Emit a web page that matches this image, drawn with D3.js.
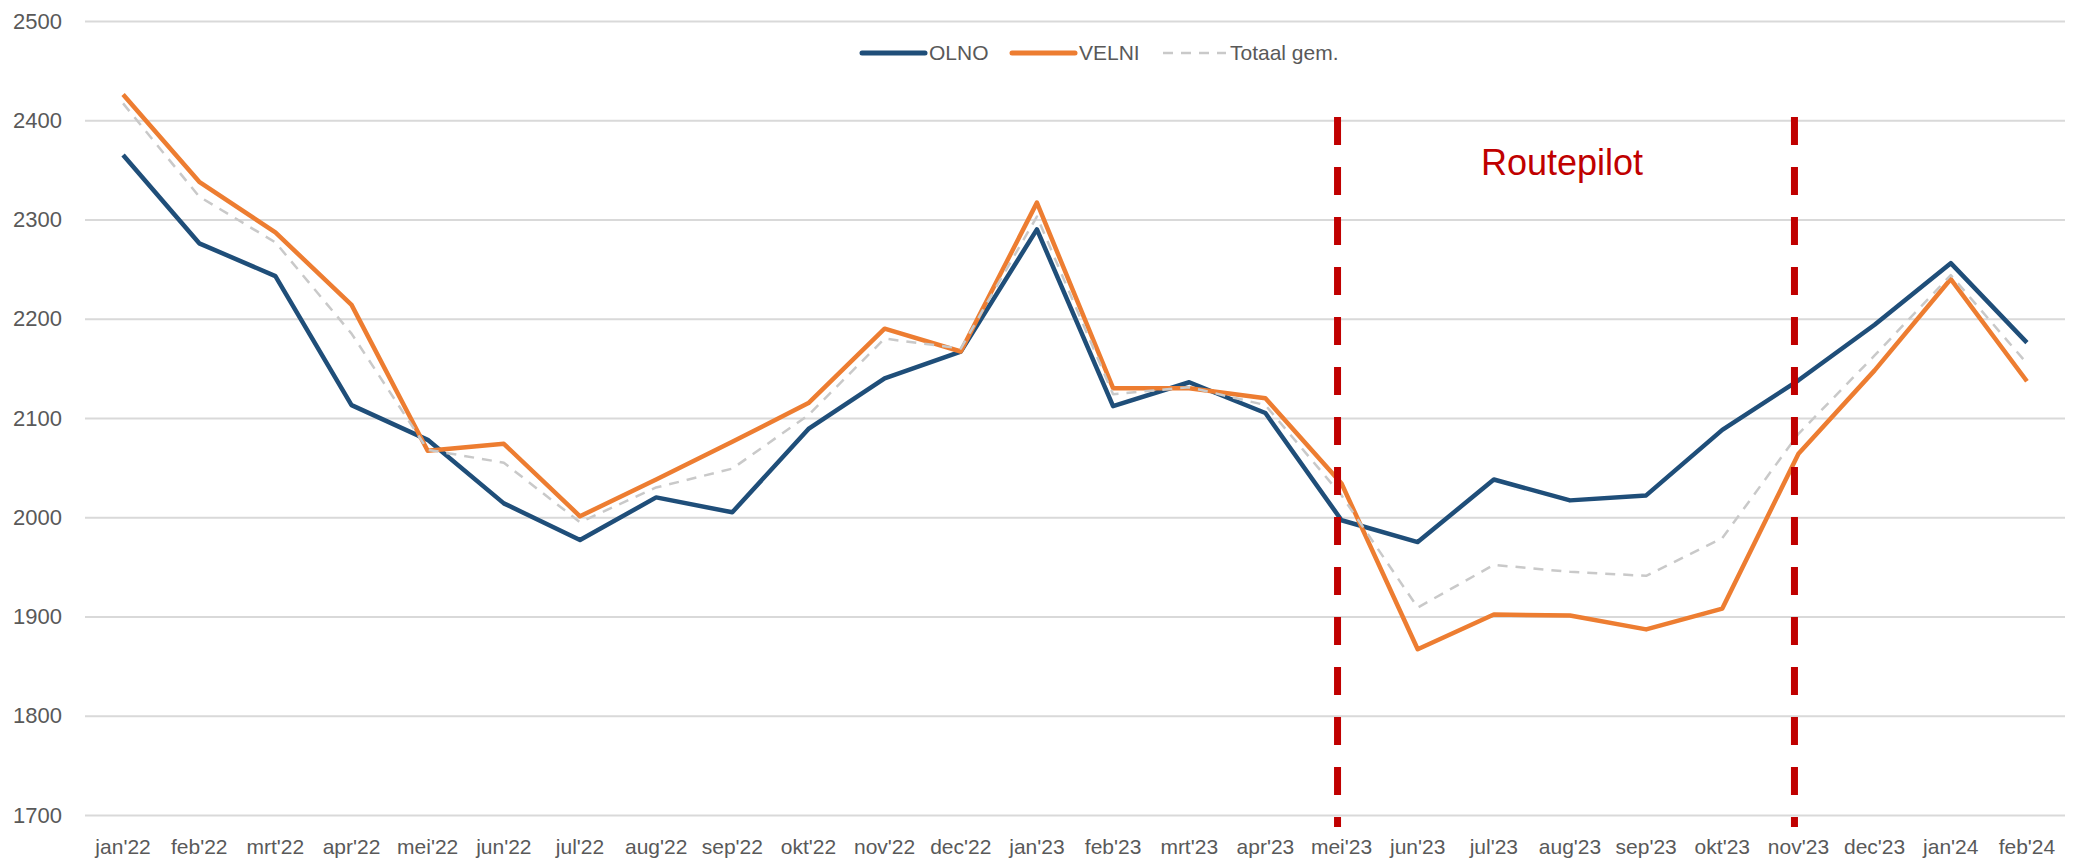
<!DOCTYPE html>
<html>
<head>
<meta charset="utf-8">
<script src="https://cdn.jsdelivr.net/npm/d3@7"></script>
<style>
  body { margin: 0; background: #fff; }
  text { font-family: "Liberation Sans", Arial, sans-serif; }
</style>
</head>
<body>
<div id="chart"></div>
<script>
// data
var months = ["jan'22", "feb'22", "mrt'22", "apr'22", "mei'22", "jun'22", "jul'22", "aug'22",
  "sep'22", "okt'22", "nov'22", "dec'22", "jan'23", "feb'23", "mrt'23", "apr'23", "mei'23",
  "jun'23", "jul'23", "aug'23", "sep'23", "okt'23", "nov'23", "dec'23", "jan'24", "feb'24"];

var olno = [2365, 2276, 2243, 2113, 2078, 2014, 1977, 2020, 2005, 2089, 2140, 2167, 2290,
  2112, 2136, 2105, 1997, 1975, 2038, 2017, 2022, 2088, 2138, 2194, 2256, 2176];

var velni = [2426, 2338, 2287, 2214, 2067, 2074, 2001, 2038, 2076, 2115, 2190, 2167, 2317,
  2130, 2130, 2120, 2034, 1867, 1902, 1901, 1887, 1908, 2064, 2148, 2240, 2137];

var totaal = [2417, 2323, 2277, 2185, 2068, 2055, 1995, 2030, 2049, 2103, 2180, 2170, 2303,
  2124, 2131, 2113, 2022, 1909, 1952, 1945, 1941, 1979, 2084, 2163, 2244, 2155];

var yTicks = [1700, 1800, 1900, 2000, 2100, 2200, 2300, 2400, 2500];

// months where the pilot starts and ends
var pilotMonths = ["mei'23", "nov'23"];
var pilotLabel = "Routepilot";

var series = [
  { name: "OLNO", values: olno, color: "#1F4E79", width: 4.5, dash: null },
  { name: "VELNI", values: velni, color: "#ED7D31", width: 4.5, dash: null },
  { name: "Totaal gem.", values: totaal, color: "#C9C9C9", width: 2.5, dash: "10,8" }
];

var svgWidth = 2078, svgHeight = 862;
var plotLeft = 85, plotRight = 2065, plotTop = 21, plotBottom = 815;

var svg = d3.select("#chart")
  .append("svg")
  .attr("width", svgWidth)
  .attr("height", svgHeight);

var x = d3.scaleBand()
  .domain(months)
  .range([plotLeft, plotRight]);

var y = d3.scaleLinear()
  .domain([1700, 2500])
  .range([plotBottom, plotTop]);

function cx(m) { return x(m) + x.bandwidth() / 2; }

// Y axis with gridlines
var yAxis = svg.append("g")
  .attr("transform", "translate(" + plotLeft + ",0)")
  .call(d3.axisLeft(y).tickValues(yTicks).tickFormat(d3.format("d"))
    .tickSize(-(plotRight - plotLeft)).tickPadding(23));
yAxis.select(".domain").remove();
yAxis.selectAll(".tick line")
  .attr("stroke", "#D9D9D9")
  .attr("stroke-width", 2);
yAxis.selectAll(".tick text")
  .attr("fill", "#595959")
  .style("font-size", "22px")
  .style("font-family", "'Liberation Sans', Arial, sans-serif");

// X axis
var xAxis = svg.append("g")
  .attr("transform", "translate(0," + plotBottom + ")")
  .call(d3.axisBottom(x).tickSize(0).tickPadding(24));
xAxis.select(".domain").remove();
xAxis.selectAll(".tick text")
  .attr("fill", "#595959")
  .style("font-size", "21px")
  .style("font-family", "'Liberation Sans', Arial, sans-serif");

// the lines
var line = d3.line()
  .x(function (d, i) { return cx(months[i]); })
  .y(function (d) { return y(d); });

series.forEach(function (s) {
  svg.append("path")
    .datum(s.values)
    .attr("fill", "none")
    .attr("stroke", s.color)
    .attr("stroke-width", s.width)
    .attr("stroke-linejoin", "round")
    .attr("stroke-dasharray", s.dash)
    .attr("d", line);
});

// red dashed markers for the pilot period
pilotMonths.forEach(function (m) {
  svg.append("line")
    .attr("x1", cx(m) - 4)
    .attr("x2", cx(m) - 4)
    .attr("y1", 117)
    .attr("y2", 827)
    .attr("stroke", "#C00000")
    .attr("stroke-width", 7)
    .attr("stroke-dasharray", "28,22");
});

svg.append("text")
  .attr("x", (cx(pilotMonths[0]) + cx(pilotMonths[1])) / 2 - 8)
  .attr("y", 175)
  .attr("text-anchor", "middle")
  .attr("fill", "#C00000")
  .style("font-size", "36px")
  .text(pilotLabel);

// legend
var legendX = [862, 1012, 1163];
var legend = svg.append("g");
series.forEach(function (s, i) {
  legend.append("line")
    .attr("x1", legendX[i])
    .attr("x2", legendX[i] + 63)
    .attr("y1", 53)
    .attr("y2", 53)
    .attr("stroke", s.color)
    .attr("stroke-width", s.dash ? 2.5 : 5)
    .attr("stroke-linecap", s.dash ? "butt" : "round")
    .attr("stroke-dasharray", s.dash);
  legend.append("text")
    .attr("x", legendX[i] + 67)
    .attr("y", 53)
    .attr("dy", "0.35em")
    .attr("fill", "#595959")
    .style("font-size", "21px")
    .text(s.name);
});
</script>
</body>
</html>
